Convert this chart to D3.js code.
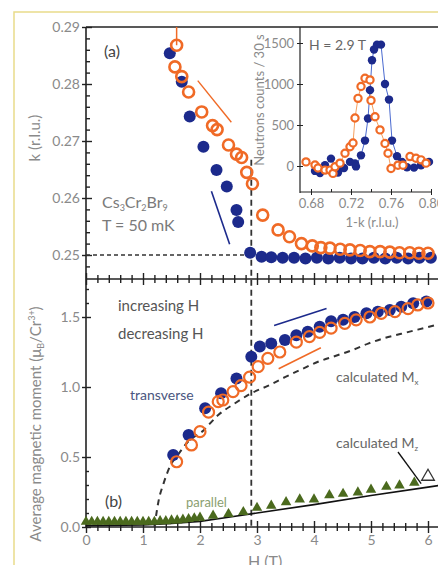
<!DOCTYPE html>
<html><head><meta charset="utf-8">
<script src="https://cdn.jsdelivr.net/npm/d3@7/dist/d3.min.js"></script>
<style>body{margin:0;background:#fff}svg{display:block}text{font-family:Lato,"Open Sans",sans-serif}</style>
</head><body><svg id="c" width="438" height="565"></svg>
<script>
// ---------- DATA ----------
// Panel (a): k vs H
const H_incA = [1.47,1.68,1.82,2.06,2.29,2.47,2.64,2.67,2.88,3.08,3.25,3.45,3.65,3.85,4.05,4.25,4.45,4.65,4.85,5.05,5.25,5.45,5.65,5.85,6.05];
const k_incA = [0.2854,0.2804,0.2743,0.2690,0.2649,0.2620,0.2579,0.2558,0.2504,0.2497,0.2496,0.2495,0.2495,0.2494,0.2495,0.2494,0.2495,0.2494,0.2494,0.2495,0.2494,0.2495,0.2494,0.2495,0.2495];
const xerr_incA = [0.06,0,0.07,0,0.06,0,0.05,0,0,0,0,0,0,0,0,0,0,0,0,0,0,0,0,0,0];
const H_decA = [1.59,1.56,1.68,1.80,2.03,2.22,2.30,2.50,2.64,2.73,2.82,2.92,3.10,3.37,3.57,3.78,3.97,4.12,4.28,4.46,4.63,4.81,4.98,5.16,5.33,5.50,5.68,5.84,6.00];
const k_decA = [0.2868,0.2830,0.2813,0.2786,0.2751,0.2727,0.2720,0.2693,0.2677,0.2671,0.2645,0.2625,0.2570,0.2544,0.2532,0.2520,0.2516,0.2513,0.2512,0.2510,0.2509,0.2508,0.2506,0.2506,0.2505,0.2504,0.2504,0.2503,0.2503];
const kerr_decA = [0.0032,0,0,0,0,0,0,0,0,0,0,0,0,0,0,0,0,0,0,0,0,0,0,0,0,0,0,0,0];

// Inset: counts vs 1-k at H = 2.9 T
const q_inc = [0.684,0.689,0.694,0.700,0.707,0.710,0.713,0.719,0.724,0.725,0.730,0.734,0.737,0.739,0.741,0.743,0.746,0.750,0.754,0.758,0.761,0.766,0.771,0.776,0.783,0.790,0.798];
const c_inc = [-60,-85,10,90,-80,0,-25,50,30,-5,130,310,580,925,1290,1420,1480,1480,1000,810,310,120,50,-15,-20,10,50];
const q_dec = [0.675,0.684,0.687,0.694,0.699,0.702,0.704,0.709,0.714,0.719,0.722,0.724,0.727,0.730,0.734,0.739,0.740,0.744,0.749,0.754,0.757,0.760,0.767,0.772,0.779,0.785,0.790,0.795];
const c_dec = [50,12,-25,-50,-50,-90,-10,35,155,235,280,585,825,970,1070,1050,800,600,440,275,155,-30,10,10,115,95,75,35];

// Panel (b): magnetic moment vs H
const H_incB = [1.53,1.80,2.09,2.37,2.64,2.90,3.05,3.25,3.49,3.69,3.89,4.10,4.30,4.51,4.71,4.92,5.12,5.33,5.53,5.74,5.97];
const M_incB = [0.514,0.657,0.848,0.955,1.06,1.216,1.29,1.31,1.335,1.37,1.395,1.43,1.47,1.48,1.50,1.526,1.538,1.55,1.574,1.598,1.61];
const H_decB = [1.59,1.85,2.00,2.15,2.32,2.40,2.58,2.72,2.87,3.02,3.19,3.40,3.69,3.92,4.10,4.30,4.54,4.74,4.98,5.18,5.42,5.65,5.82,6.00];
const M_decB = [0.466,0.586,0.681,0.82,0.895,0.907,0.967,1.01,1.07,1.145,1.205,1.25,1.32,1.36,1.39,1.42,1.455,1.48,1.50,1.526,1.538,1.56,1.586,1.60];
const H_par = [0,0.1,0.2,0.3,0.4,0.5,0.6,0.7,0.8,0.9,1.0,1.1,1.2,1.3,1.4,1.5,1.6,1.7,1.8,1.9,2.0,2.23,2.5,2.76,3.0,3.25,3.51,3.75,4.0,4.27,4.51,4.77,5.0,5.27,5.5,5.76];
const M_par = [0.03,0.03,0.03,0.03,0.03,0.03,0.03,0.03,0.03,0.03,0.03,0.03,0.03,0.035,0.035,0.04,0.04,0.045,0.05,0.055,0.06,0.074,0.086,0.10,0.13,0.145,0.17,0.19,0.19,0.22,0.23,0.24,0.26,0.28,0.29,0.31];
const H_parOpen = [6.0];
const M_parOpen = [0.36];
const H_Mx = [1.2,1.28,1.36,1.47,1.62,1.77,2.06,2.32,2.6,2.9,3.2,3.49,3.8,4.07,4.36,4.65,4.95,5.24,5.53,5.82,6.2];
const M_Mx = [0.0,0.2,0.31,0.43,0.52,0.6,0.69,0.8,0.88,0.955,1.01,1.07,1.13,1.18,1.22,1.26,1.31,1.35,1.38,1.41,1.45];
const H_Mz = [0,1.0,1.5,2.0,2.5,3.0,4.0,5.0,6.0,6.2];
const M_Mz = [0.01,0.015,0.025,0.04,0.07,0.1,0.16,0.225,0.285,0.297];

const yTicksA = [0.25,0.26,0.27,0.28,0.29];
const yTicksB = [0.0,0.5,1.0,1.5];
const xTicks = [0,1,2,3,4,5,6];
const inYTicks = [0,500,1000,1500];
const inXTicks = [0.68,0.72,0.76,0.80];

// ---------- DRAW ----------
const BLUE = "#1c2a8c", ORANGE = "#f06a26", GREEN = "#4b6a1e", GRAY = "#8a8a8a", DARK = "#222";
const svg = d3.select("#c");

// outer pale frame
svg.append("path").attr("d","M14,565 L14,12 L438,12").attr("fill","none").attr("stroke","#e9dc8a").attr("stroke-width",1.5);

const x = d3.scaleLinear().domain([0,6]).range([86,428]);
const yA = d3.scaleLinear().domain([0.25,0.29]).range([255,27]);
const yB = d3.scaleLinear().domain([0,1.5]).range([527,317]);
const xIn = d3.scaleLinear().domain([0.68,0.80]).range([311,431]);
const yIn = d3.scaleLinear().domain([0,1500]).range([166,43]);

const X0 = 86, XR = 438, YT = 27, YM = 279, YBOT = 527;

function styleAxis(g, labels){
  g.select(".domain").remove();
  g.selectAll(".tick line").attr("stroke",DARK).attr("stroke-width",1.4);
  g.selectAll(".tick text").attr("fill",GRAY).style("font-size","14px");
  if(!labels) g.selectAll(".tick text").remove();
}

// frame lines
const frame = svg.append("g").attr("stroke",DARK).attr("stroke-width",1.6).attr("fill","none");
frame.append("line").attr("x1",X0).attr("x2",X0).attr("y1",YT).attr("y2",YBOT);
frame.append("line").attr("x1",X0).attr("x2",XR).attr("y1",YT).attr("y2",YT);
frame.append("line").attr("x1",X0).attr("x2",XR).attr("y1",YM).attr("y2",YM);
frame.append("line").attr("x1",X0).attr("x2",XR).attr("y1",YBOT).attr("y2",YBOT);

// y axis (a)
const gA1 = svg.append("g").attr("transform",`translate(${X0},0)`).call(d3.axisLeft(yA).tickValues(yTicksA).tickSize(4).tickPadding(2).tickFormat(d3.format(".2f")));
styleAxis(gA1,true);
const gA2 = svg.append("g").attr("transform",`translate(${X0},0)`).call(d3.axisRight(yA).tickValues(yTicksA).tickSize(6));
styleAxis(gA2,false);
const gA3 = svg.append("g").attr("transform",`translate(${X0},0)`).call(d3.axisRight(yA).tickValues(d3.range(0.25,0.2901,0.002).filter(v=>Math.abs(v*100-Math.round(v*100))>1e-6)).tickSize(4));
styleAxis(gA3,false);
const gA4 = svg.append("g").attr("transform",`translate(${X0},0)`).call(d3.axisRight(yA).tickValues([0.248]).tickSize(4));
styleAxis(gA4,false);

// y axis (b)
const gB1 = svg.append("g").attr("transform",`translate(${X0},0)`).call(d3.axisLeft(yB).tickValues(yTicksB).tickSize(4).tickPadding(2).tickFormat(d3.format(".1f")));
styleAxis(gB1,true);
const gB2 = svg.append("g").attr("transform",`translate(${X0},0)`).call(d3.axisRight(yB).tickValues(yTicksB).tickSize(5));
styleAxis(gB2,false);
const gB3 = svg.append("g").attr("transform",`translate(${X0},0)`).call(d3.axisRight(yB).tickValues([0.1,0.2,0.3,0.4,1.6,1.7]).tickSize(3));
styleAxis(gB3,false);

// x axes (crossing ticks)
const minorX = d3.range(0,6.11,0.2).filter(v=>Math.abs(v-Math.round(v))>1e-6);
[YM, YBOT].forEach((yy,i)=>{
  const gM1 = svg.append("g").attr("transform",`translate(0,${yy})`).call(d3.axisBottom(x).tickValues(xTicks).tickSize(6).tickPadding(2).tickFormat(d3.format("d")));
  styleAxis(gM1, i===1);
  const gM2 = svg.append("g").attr("transform",`translate(0,${yy})`).call(d3.axisTop(x).tickValues(xTicks).tickSize(6));
  styleAxis(gM2,false);
  const gm1 = svg.append("g").attr("transform",`translate(0,${yy})`).call(d3.axisBottom(x).tickValues(minorX).tickSize(4));
  styleAxis(gm1,false);
  const gm2 = svg.append("g").attr("transform",`translate(0,${yy})`).call(d3.axisTop(x).tickValues(minorX).tickSize(4));
  styleAxis(gm2,false);
});

// dashed guide lines
svg.append("line").attr("x1",X0).attr("x2",x(2.9)).attr("y1",yA(0.25)).attr("y2",yA(0.25))
  .attr("stroke","#333").attr("stroke-width",1.5).attr("stroke-dasharray","4,3");
svg.append("line").attr("x1",x(2.9)).attr("x2",x(2.9)).attr("y1",yA(0.2667)).attr("y2",YBOT)
  .attr("stroke","#333").attr("stroke-width",1.8).attr("stroke-dasharray","6,4");

// ---- inset ----
const inG = svg.append("g");
inG.append("line").attr("x1",300).attr("x2",300).attr("y1",YT).attr("y2",193).attr("stroke",DARK).attr("stroke-width",1.2);
inG.append("line").attr("x1",300).attr("x2",432).attr("y1",192).attr("y2",192).attr("stroke",DARK).attr("stroke-width",1.2);
const iy1 = inG.append("g").attr("transform","translate(300,0)").call(d3.axisLeft(yIn).tickValues(inYTicks).tickSize(3).tickPadding(3).tickFormat(d3.format("d")));
styleAxis(iy1,true); iy1.selectAll(".tick text").style("font-size","13px");
const iy2 = inG.append("g").attr("transform","translate(300,0)").call(d3.axisRight(yIn).tickValues(inYTicks).tickSize(3));
styleAxis(iy2,false);
const ix1 = inG.append("g").attr("transform","translate(0,192)").call(d3.axisBottom(xIn).tickValues(inXTicks).tickSize(3).tickPadding(4).tickFormat(d3.format(".2f")));
styleAxis(ix1,true); ix1.selectAll(".tick text").style("font-size","13px");
const ix2 = inG.append("g").attr("transform","translate(0,192)").call(d3.axisTop(xIn).tickValues([0.68,0.70,0.72,0.74,0.76,0.78,0.80]).tickSize(3));
styleAxis(ix2,false);
inG.selectAll(".tick line").attr("stroke-width",1);

const lineIn = d3.line().x(d=>xIn(d[0])).y(d=>yIn(d[1]));
const decIn = q_dec.map((q,i)=>[q,c_dec[i]]);
const incIn = q_inc.map((q,i)=>[q,c_inc[i]]);
inG.append("path").datum(decIn).attr("d",lineIn).attr("fill","none").attr("stroke","#f5a060").attr("stroke-width",1);
inG.append("path").datum(incIn).attr("d",lineIn).attr("fill","none").attr("stroke","#4a6ad0").attr("stroke-width",1);
inG.selectAll("circle.inb").data(incIn).join("circle").attr("class","inb")
  .attr("cx",d=>xIn(d[0])).attr("cy",d=>yIn(d[1])).attr("r",4.2).attr("fill",BLUE);
inG.selectAll("circle.ino").data(decIn).join("circle").attr("class","ino")
  .attr("cx",d=>xIn(d[0])).attr("cy",d=>yIn(d[1])).attr("r",3.6).attr("fill","#fff").attr("stroke",ORANGE).attr("stroke-width",2.2);

// ---- panel (a) data ----
const decA = H_decA.map((h,i)=>({h,v:k_decA[i],e:kerr_decA[i]}));
const incA = H_incA.map((h,i)=>({h,v:k_incA[i],e:xerr_incA[i]}));
svg.selectAll("line.eo").data(decA.filter(d=>d.e>0)).join("line").attr("class","eo")
  .attr("x1",d=>x(d.h)).attr("x2",d=>x(d.h)).attr("y1",d=>yA(d.v)).attr("y2",d=>yA(d.v+d.e))
  .attr("stroke",ORANGE).attr("stroke-width",1.5);
svg.selectAll("line.eb").data(incA.filter(d=>d.e>0)).join("line").attr("class","eb")
  .attr("x1",d=>x(d.h-d.e)).attr("x2",d=>x(d.h+d.e)).attr("y1",d=>yA(d.v)).attr("y2",d=>yA(d.v))
  .attr("stroke",BLUE).attr("stroke-width",1.5);
svg.selectAll("circle.ba").data(incA).join("circle").attr("class","ba")
  .attr("cx",d=>x(d.h)).attr("cy",d=>yA(d.v)).attr("r",6).attr("fill",BLUE);
svg.selectAll("circle.oa").data(decA).join("circle").attr("class","oa")
  .attr("cx",d=>x(d.h)).attr("cy",d=>yA(d.v)).attr("r",5.5).attr("fill","none").attr("stroke",ORANGE).attr("stroke-width",2.6);

// arrows (a)
svg.append("line").attr("x1",x(1.96)).attr("y1",yA(0.2806)).attr("x2",x(2.55)).attr("y2",yA(0.2733)).attr("stroke",ORANGE).attr("stroke-width",1.4);
svg.append("line").attr("x1",x(2.2)).attr("y1",yA(0.2612)).attr("x2",x(2.52)).attr("y2",yA(0.2519)).attr("stroke",BLUE).attr("stroke-width",1.6);

// ---- panel (b) data ----
const lineB = d3.line().x(d=>x(d[0])).y(d=>yB(d[1]));
svg.append("path").datum(H_Mx.map((h,i)=>[h,M_Mx[i]])).attr("d",lineB.curve(d3.curveMonotoneX))
  .attr("fill","none").attr("stroke","#333").attr("stroke-width",2).attr("stroke-dasharray","6,5");
svg.append("path").datum(H_Mz.map((h,i)=>[h,M_Mz[i]])).attr("d",d3.line().x(d=>x(d[0])).y(d=>yB(d[1])))
  .attr("fill","none").attr("stroke","#111").attr("stroke-width",1.6);
const tri = d3.symbol().type(d3.symbolTriangle).size(48);
svg.selectAll("path.par").data(H_par.map((h,i)=>[h,M_par[i]])).join("path").attr("class","par")
  .attr("d",tri).attr("transform",d=>`translate(${x(d[0])},${yB(d[1])-1})`).attr("fill",GREEN);
svg.selectAll("path.paro").data(H_parOpen.map((h,i)=>[h,M_parOpen[i]])).join("path").attr("class","paro")
  .attr("d",d3.symbol().type(d3.symbolTriangle).size(70)).attr("transform",d=>`translate(${x(d[0])},${yB(d[1])})`)
  .attr("fill","#fff").attr("stroke","#333").attr("stroke-width",1.3);

svg.selectAll("circle.bb").data(H_incB.map((h,i)=>[h,M_incB[i]])).join("circle").attr("class","bb")
  .attr("cx",d=>x(d[0])).attr("cy",d=>yB(d[1])).attr("r",6).attr("fill",BLUE);
svg.selectAll("circle.ob").data(H_decB.map((h,i)=>[h,M_decB[i]])).join("circle").attr("class","ob")
  .attr("cx",d=>x(d[0])).attr("cy",d=>yB(d[1])).attr("r",5.5).attr("fill","none").attr("stroke",ORANGE).attr("stroke-width",2.2);

// arrows (b)
svg.append("line").attr("x1",x(3.38)).attr("y1",yB(1.13)).attr("x2",x(4.12)).attr("y2",yB(1.28)).attr("stroke",ORANGE).attr("stroke-width",1.6);
svg.append("line").attr("x1",x(3.3)).attr("y1",yB(1.44)).attr("x2",x(4.22)).attr("y2",yB(1.56)).attr("stroke",BLUE).attr("stroke-width",1.6);
// pointer for calculated Mz
svg.append("line").attr("x1",398).attr("y1",452).attr("x2",x(5.88)).attr("y2",yB(0.31)).attr("stroke","#111").attr("stroke-width",1.3);

// ---- texts ----
function txt(s,xx,yy,size,fill,anchor){return svg.append("text").attr("x",xx).attr("y",yy).attr("fill",fill).style("font-size",size+"px").attr("text-anchor",anchor||"start").text(s);}
txt("(a)",104,57,16,"#444");
const cs = svg.append("text").attr("x",102).attr("y",208).attr("fill","#7a7a7a").style("font-size","16px");
cs.append("tspan").text("Cs");
cs.append("tspan").attr("dy",3).style("font-size","9px").text("3");
cs.append("tspan").attr("dy",-3).text("Cr");
cs.append("tspan").attr("dy",3).style("font-size","9px").text("2");
cs.append("tspan").attr("dy",-3).text("Br");
cs.append("tspan").attr("dy",3).style("font-size","9px").text("9");
txt("T = 50 mK",102,231,16,"#7a7a7a");
txt("H = 2.9 T",309,50,14,"#666");
svg.append("text").attr("transform","translate(264,100) rotate(-90)").attr("text-anchor","middle").attr("fill",GRAY).style("font-size","13px").text("Neutrons counts / 30 s");
txt("1-k (r.l.u.)",372,227,13,GRAY,"middle");

svg.append("text").attr("transform","translate(40,138) rotate(-90)").attr("text-anchor","middle").attr("fill",GRAY).style("font-size","15px").text("k (r.l.u.)");
const yl = svg.append("text").attr("transform","translate(41,424) rotate(-90)").attr("text-anchor","middle").attr("fill",GRAY).style("font-size","15px");
yl.append("tspan").text("Average magnetic moment (μ");
yl.append("tspan").attr("dy",3).style("font-size","9px").text("B");
yl.append("tspan").attr("dy",-3).text("/Cr");
yl.append("tspan").attr("dy",-6).style("font-size","9px").text("3+");
yl.append("tspan").attr("dy",6).text(")");

txt("increasing H",118,311,15,"#555");
txt("decreasing H",118,339,15,"#555");
txt("transverse",130,400,14,"#4a5680");
txt("(b)",105,507,16,"#444");
txt("parallel",186,507,13,"#8aa070");
const cx1 = svg.append("text").attr("x",336).attr("y",382).attr("fill","#666").style("font-size","14px");
cx1.append("tspan").text("calculated M"); cx1.append("tspan").attr("dy",3).style("font-size","8px").text("x");
const cz1 = svg.append("text").attr("x",336).attr("y",448).attr("fill","#666").style("font-size","14px");
cz1.append("tspan").text("calculated M"); cz1.append("tspan").attr("dy",3).style("font-size","8px").text("z");
txt("H (T)",248,567,16,GRAY);
</script></body></html>
